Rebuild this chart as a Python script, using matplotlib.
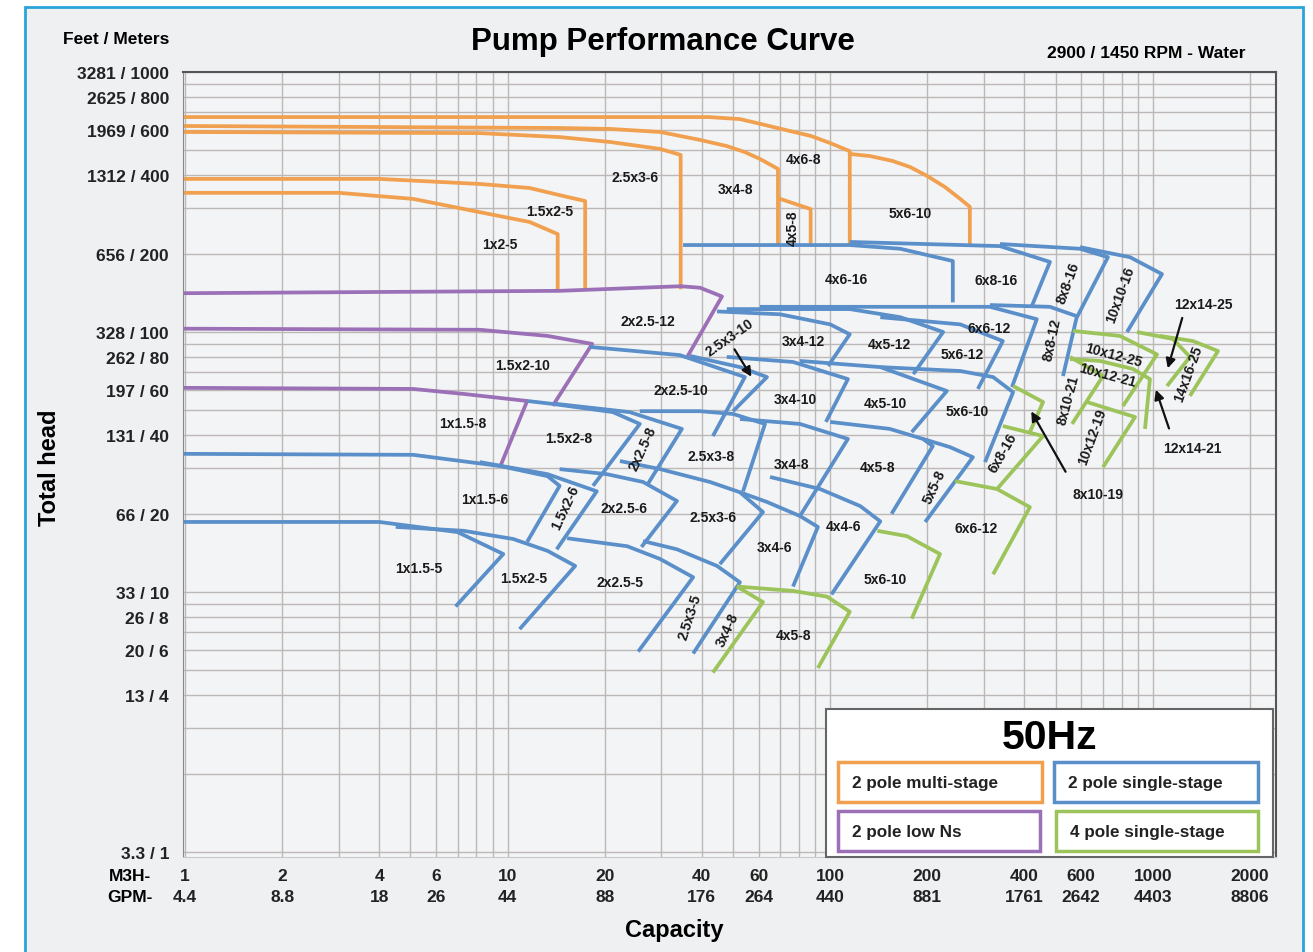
import matplotlib.pyplot as plt
from matplotlib.patches import Rectangle
from matplotlib.ticker import LogLocator, NullFormatter

plt.rcParams['font.family'] = ['Liberation Sans', 'DejaVu Sans']
plt.rcParams['font.weight'] = 'bold'

# Capacity (m3/h) and head (m) of each pump curve
multi_stage = {
    "4x6-8": ([0.98, 42, 52.5, 61, 75, 87, 100, 115, 115],
              [671, 671, 659, 631, 593, 568, 533, 496, 218]),
    "5x6-10": ([115, 133, 156, 177, 200, 227, 253, 271, 271],
               [484, 475, 455, 431, 398, 361, 325, 303, 218]),
    "3x4-8": ([0.98, 14.5, 20.8, 29.7, 39.5, 47.8, 54.4, 60.6, 68.9, 68.9],
              [620, 609, 604, 588, 548, 519, 492, 463, 424, 218]),
    "4x5-8": ([69, 87, 87], [327, 297, 218]),
    "2.5x3-6": ([0.98, 8.2, 14.5, 20.8, 29.7, 34.4, 34.4], [588, 582, 562, 538, 506, 480, 146]),
    "1.5x2-5": ([0.98, 4.0, 8.2, 11.7, 14.8, 17.4, 17.4], [388, 388, 371, 358, 334, 319, 144]),
    "1x2-5": ([0.98, 3.0, 5.1, 8.2, 11.7, 14.3, 14.3], [343, 343, 325, 289, 265, 238, 144]),
}

low_ns = {
    "2x2.5-12": ([0.98, 14.5, 34.4, 39.5, 46.2, 36.0], [141, 144, 150, 148, 137, 80]),
    "1.5x2-10": ([0.98, 8.2, 13.3, 18.3, 13.8], [103, 102, 96.6, 90, 52]),
    "1x1.5-8": ([0.98, 5.1, 7.3, 11.5, 9.5], [61, 60.4, 57.8, 54.3, 30.5]),
}

single_stage_2p = {
    "1x1.5-5": ([0.98, 4.0, 7.0, 9.7, 6.9], [18.6, 18.6, 17.0, 14.0, 8.8]),
    "1.5x2-5": ([4.5, 7.3, 10.4, 13.3, 16.2, 10.9], [17.8, 17.2, 16.0, 14.4, 12.6, 7.2]),
    "2x2.5-5": ([15.3, 23.5, 29.7, 37.6, 25.4], [16.1, 15.0, 13.4, 11.4, 5.9]),
    "2.5x3-5": ([26.3, 33.5, 44.6, 52.5, 37.6], [15.7, 14.6, 12.6, 10.9, 5.8]),
    "1x1.5-6": ([0.98, 5.1, 9.5, 13.3, 14.5, 11.5], [34, 33.7, 30.5, 27.9, 25.6, 15.6]),
    "1.5x2-6": ([8.2, 13.3, 18.9, 14.2], [31.6, 28.4, 24.4, 14.6]),
    "2x2.5-6": ([14.5, 20.3, 26.3, 33.5, 26.0], [29.7, 28.4, 26.5, 22.4, 14.9]),
    "2.5x3-6": ([22.3, 29.7, 42.4, 52.5, 61.9, 45.5], [31.9, 29.7, 26.5, 24.2, 20.3, 12.8]),
    "3x4-6": ([52.5, 63.7, 80.6, 91.6, 76.7], [24.2, 22.2, 19.6, 17.8, 10.5]),
    "4x4-6": ([65.1, 93, 124, 143, 101], [27.7, 24.9, 21.4, 18.7, 9.8]),
    "1.5x2-8": ([11.5, 13.8, 21.2, 25.7, 18.4], [54.3, 52.9, 49.2, 44.3, 25.6]),
    "2x2.5-8": ([14.2, 23.9, 34.7, 27.2], [52.9, 49.2, 42.4, 26.0]),
    "2.5x3-8": ([25.7, 39.5, 50, 62.8, 53.7], [49.6, 49.6, 48.4, 44.3, 24.4]),
    "3x4-8": ([52.5, 80.6, 113.5, 80.6], [46.3, 44.3, 38.8, 19.6]),
    "4x5-8": ([100, 153, 194, 208, 155], [45.1, 42.4, 38.8, 36.4, 20.0]),
    "5x5-8": ([194, 235, 277, 197], [38.8, 36.1, 33.0, 18.6]),
    "2x2.5-10": ([18.0, 34.2, 54.4, 43.3], [87.6, 81.5, 67.1, 39.8]),
    "2.5x3-10": ([36.8, 52.5, 63.7, 50.0], [80.9, 73.3, 67.1, 49.6]),
    "3x4-10": ([47.8, 76.7, 113.5, 97], [80.2, 76.7, 65.9, 45.1]),
    "4x5-10": ([80.6, 143, 230, 179], [77.4, 73.3, 59.3, 41.2]),
    "5x6-10": ([143, 253, 320, 369, 302], [73.3, 70.8, 67.1, 58.7, 31.6]),
    "3x4-12": ([44.6, 69.9, 100, 115, 98.5], [120, 117, 107, 98, 74]),
    "4x5-12": ([47.8, 115, 165, 224, 181], [122.5, 122.5, 114, 100, 68.9]),
    "5x6-12": ([143, 253, 343, 287], [114, 107, 92.3, 60.4]),
    "6x6-12": ([60.6, 313, 437, 366], [125, 125, 112, 61.4]),
    "8x8-12": ([313, 480, 582, 527], [127, 125, 115, 67.7]),
    "4x6-16": ([35, 115, 165, 240, 240], [216, 216, 209, 187.5, 130]),
    "6x8-16": ([115, 336, 480, 422], [222, 214, 186, 126]),
    "8x8-16": ([336, 595, 726, 582], [218, 209, 194, 114]),
    "10x10-16": ([595, 850, 1068, 832], [212, 194, 167, 100]),
}

single_stage_4p = {
    "3x4-8": ([51.4, 61.9, 43.3], [10.5, 9.15, 4.9]),
    "4x5-8": ([51.4, 76.7, 97.8, 115, 91.6], [10.5, 10.1, 9.6, 8.4, 5.1]),
    "5x6-10": ([140, 173, 219, 179], [17.2, 16.4, 14.0, 7.9]),
    "6x6-12": ([244, 329, 416, 320], [26.7, 24.9, 21.2, 11.7]),
    "8x10-19a": ([369, 457, 416], [62, 53.8, 41.2]),
    "8x10-19b": ([343, 457, 329], [43.5, 39.8, 24.9]),
    "8x10-21": ([554, 701, 562], [80.2, 67.7, 44.3]),
    "10x12-19": ([625, 881, 701], [53.8, 47.1, 30.2]),
    "10x12-21": ([554, 686, 868, 980, 946], [78.7, 77.4, 72.1, 65.9, 42.4]),
    "10x12-25": ([566, 791, 1031, 808], [101, 96.6, 82, 51.9]),
    "12x14-25": ([893, 1155, 1304, 1107], [100, 94, 80.2, 62]),
    "14x16-25": ([1052, 1332, 1593, 1304], [96.6, 92.3, 84.5, 56.8]),
}

# pump labels: text, capacity, head, rotation
orange_labels = [
    ("1x2-5", 9.47, 218, 0), ("1.5x2-5", 13.5, 292, 0), ("2.5x3-6", 24.8, 395, 0),
    ("3x4-8", 50.7, 355, 0), ("4x6-8", 82.4, 463, 0), ("4x5-8", 76.7, 253, 90),
    ("5x6-10", 177, 287, 0),
]
purple_labels = [
    ("2x2.5-12", 27.2, 110, 0), ("1.5x2-10", 11.1, 74.6, 0), ("1x1.5-8", 7.27, 44.7, 0),
]
blue_labels = [
    ("4x6-16", 112, 160, 0), ("6x8-16", 326, 158, 0), ("8x8-16", 546, 155, 70),
    ("10x10-16", 791, 140, 70), ("6x6-12", 311, 104, 0), ("5x6-12", 256, 82, 0),
    ("4x5-12", 152, 90, 0), ("3x4-12", 82.4, 92.3, 0), ("2x2.5-10", 34.4, 59.8, 0),
    ("3x4-10", 77.8, 55.3, 0), ("4x5-10", 148, 53.4, 0), ("5x6-10", 266, 49.6, 0),
    ("8x8-12", 487, 94, 78), ("1.5x2-8", 15.5, 39.1, 0), ("2x2.5-8", 26.3, 35.8, 65),
    ("2.5x3-8", 42.7, 33.4, 0), ("3x4-8", 76.1, 31.1, 0), ("4x5-8", 140, 30.2, 0),
    ("5x5-8", 211, 25.6, 65), ("6x8-16", 343, 34.5, 60), ("1x1.5-6", 8.51, 22.8, 0),
    ("1.5x2-6", 15.1, 21.2, 65), ("2x2.5-6", 22.9, 21.0, 0), ("2.5x3-6", 43.3, 19.4, 0),
    ("3x4-6", 67.4, 14.9, 0), ("4x4-6", 109.6, 17.9, 0), ("1x1.5-5", 5.31, 12.4, 0),
    ("1.5x2-5", 11.2, 11.3, 0), ("2x2.5-5", 22.3, 10.9, 0), ("2.5x3-5", 36.8, 8.09, 72),
    ("2.5x3-10", 48.9, 95.7, 35),
]
green_labels = [
    ("3x4-8", 48.2, 7.2, 65), ("4x5-8", 76.7, 6.83, 0), ("5x6-10", 148, 11.2, 0),
    ("6x6-12", 283, 17.6, 0), ("8x10-21", 546, 55.3, 75), ("10x12-25", 753, 82, -15),
    ("10x12-21", 726, 68.4, -15), ("10x12-19", 648, 39.8, 70), ("14x16-25", 1286, 69.5, 70),
    ("12x14-25", 1431, 128, 0), ("12x14-21", 1323, 35.8, 0), ("8x10-19", 676, 23.8, 0),
]

# arrows: (tail capacity, tail head) -> (tip capacity, tip head)
arrows = [
    ((50.0, 87.6), (57.6, 65.9)),
    ((542, 28.4), (416, 50.6)),
    ((1241, 116), (1107, 70.8)),
    ((1130, 41.6), (1016, 61.4)),
]

head_m = [1000, 800, 600, 400, 200, 100, 80, 60, 40, 20, 10, 8, 6, 4, 1]
head_ft = [3281, 2625, 1969, 1312, 656, 328, 262, 197, 131, 66, 33, 26, 20, 13, 3.3]
flow_m3h = [1, 2, 4, 6, 10, 20, 40, 60, 100, 200, 400, 600, 1000, 2000]
flow_gpm = [4.4, 8.8, 18, 26, 44, 88, 176, 264, 440, 881, 1761, 2642, 4403, 8806]

ORANGE = "#f0a04e"
PURPLE = "#9b70b6"
BLUE = "#5a8fca"
GREEN = "#9cc45a"

W, H = 1313, 953
fig = plt.figure(figsize=(W / 100, H / 100), dpi=100, facecolor="white")

# light background inside the blue frame
fig.add_artist(Rectangle((25 / W, -0.01), 1278 / W, 1 - 8 / H + 0.01,
                         transform=fig.transFigure, facecolor="#eef0f2",
                         edgecolor="#2ba4dc", linewidth=2, zorder=-5))

ax = fig.add_axes([183 / W, 1 - 858 / H, 1093 / W, 785 / H])
ax.set_facecolor("#f3f4f6")
ax.set_xscale("log")
ax.set_yscale("log")
ax.set_xlim(0.986, 2410)
ax.set_ylim(0.957, 1000)

ax.xaxis.set_minor_locator(LogLocator(base=10, subs=range(1, 10), numticks=20))
ax.yaxis.set_minor_locator(LogLocator(base=10, subs=range(1, 10), numticks=20))
ax.xaxis.set_minor_formatter(NullFormatter())
ax.yaxis.set_minor_formatter(NullFormatter())
ax.grid(which="both", color="#bdb8b8", linewidth=1.0)
ax.set_axisbelow(True)

ax.set_yticks(head_m, [f"{ft:g} / {m}" for ft, m in zip(head_ft, head_m)])
ax.set_xticks(flow_m3h, [f"{q}\n{g}" for q, g in zip(flow_m3h, flow_gpm)])
ax.tick_params(which="both", length=0)
ax.tick_params(axis="y", labelsize=12.5, pad=10, colors="#222222")
ax.tick_params(axis="x", labelsize=12.5, pad=8, colors="#222222")
for lab in ax.get_xticklabels():
    lab.set_linespacing(1.5)

for side in ["top", "right"]:
    ax.spines[side].set_color("#555555")
    ax.spines[side].set_linewidth(1.5)
ax.spines["left"].set_color("#888888")
ax.spines["bottom"].set_color("#c8c8c8")

line_kw = dict(linewidth=2.7, solid_joinstyle="round", solid_capstyle="butt")
for group, color in [(multi_stage, ORANGE), (low_ns, PURPLE),
                     (single_stage_2p, BLUE), (single_stage_4p, GREEN)]:
    for name, (q, h) in group.items():
        ax.plot(q, h, color=color, **line_kw)

for text, q, h, rot in orange_labels + purple_labels + blue_labels + green_labels:
    ax.text(q, h, text, fontsize=10, fontweight="bold", ha="center", va="center",
            rotation=rot, color="#1a1a1a", zorder=6)

for (q0, h0), (q1, h1) in arrows:
    ax.annotate("", xy=(q1, h1), xytext=(q0, h0),
                arrowprops=dict(arrowstyle="-|>", color="#111111", lw=1.6,
                                mutation_scale=14), zorder=6)

# headings
fig.text(663 / W, 1 - 42 / H, "Pump Performance Curve", fontsize=22.5, fontweight="bold",
         ha="center", va="center")
fig.text(1146 / W, 1 - 54 / H, "2900 / 1450 RPM - Water", fontsize=12.5, fontweight="bold",
         ha="center", va="center")
fig.text(116 / W, 1 - 40 / H, "Feet / Meters", fontsize=12.5, fontweight="bold",
         ha="center", va="center")
fig.text(50 / W, 1 - 468 / H, "Total head", fontsize=17, fontweight="bold",
         ha="center", va="center", rotation=90)
fig.text(674 / W, 1 - 931 / H, "Capacity", fontsize=17, fontweight="bold",
         ha="center", va="center")
fig.text(130 / W, 1 - 887 / H, "M3H-\nGPM-", fontsize=12.5, fontweight="bold",
         ha="center", va="center", linespacing=1.5)

# legend box
fig.add_artist(Rectangle((826 / W, 1 - 858 / H), 447 / W, 148 / H,
                         transform=fig.transFigure, facecolor="white",
                         edgecolor="#666666", linewidth=1.5, zorder=10))
fig.text(1050 / W, 1 - 738 / H, "50Hz", fontsize=29.5, fontweight="bold",
         ha="center", va="center", zorder=11)
legend_items = [
    ("2 pole multi-stage", ORANGE, 838, 763, 204),
    ("2 pole single-stage", BLUE, 1054, 763, 204),
    ("2 pole low Ns", PURPLE, 838, 812, 202),
    ("4 pole single-stage", GREEN, 1056, 812, 202),
]
for text, color, x0, y0, w in legend_items:
    fig.add_artist(Rectangle((x0 / W, 1 - (y0 + 40) / H), w / W, 40 / H,
                             transform=fig.transFigure, facecolor="white",
                             edgecolor=color, linewidth=2.5, zorder=11))
    fig.text((x0 + 14) / W, 1 - (y0 + 21) / H, text, fontsize=12.3, fontweight="bold",
             ha="left", va="center", zorder=12, color="#222222")

fig.savefig("out.png", dpi=100, facecolor=fig.get_facecolor())
